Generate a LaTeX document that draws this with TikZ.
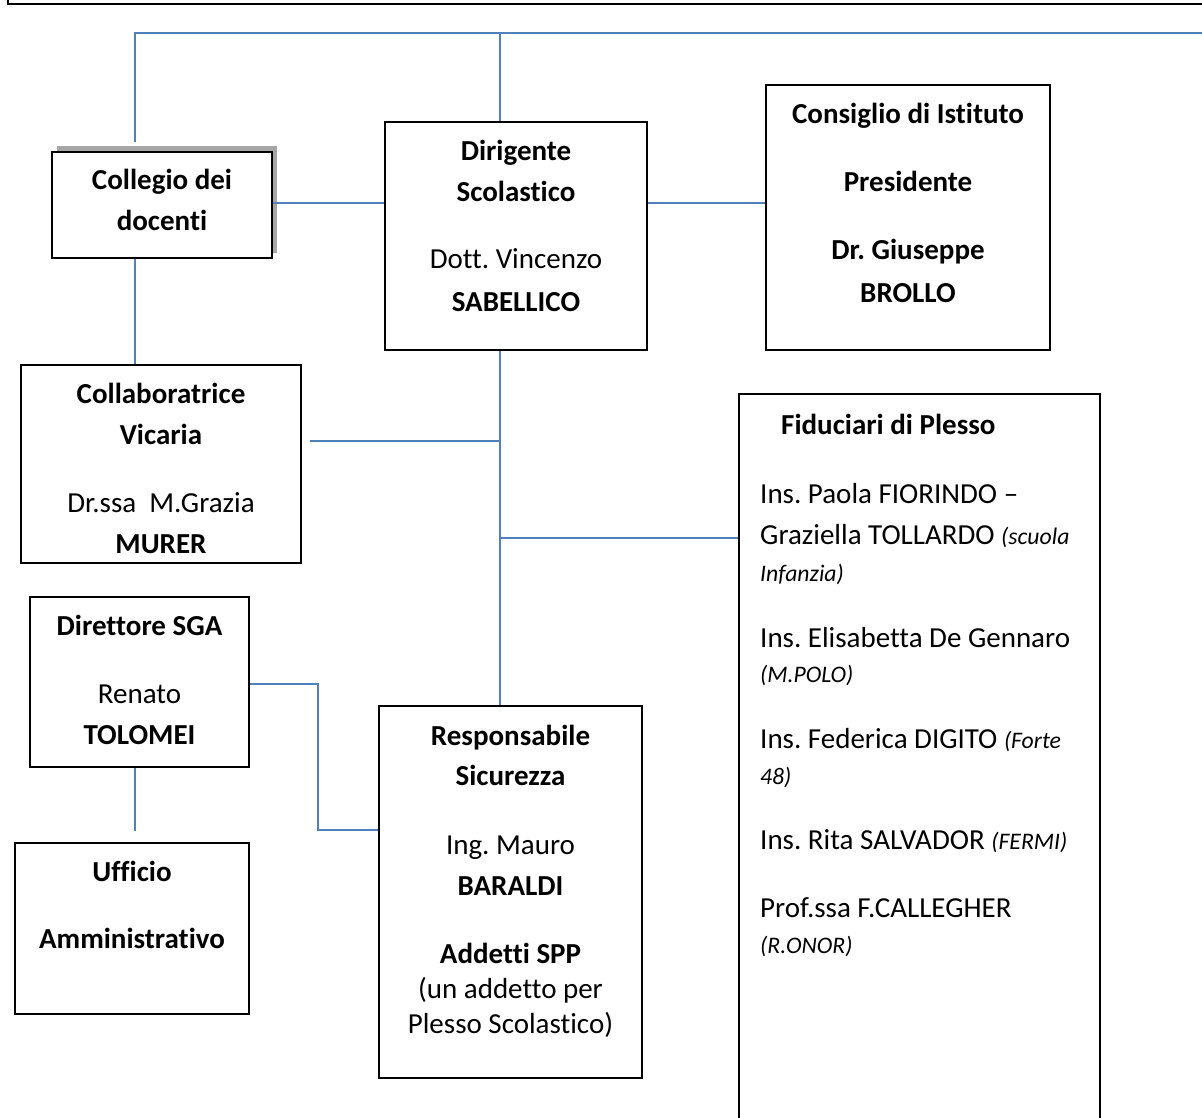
\documentclass[tikz,border=0pt]{standalone}
\usepackage{fontspec}
\setmainfont{Carlito}[Ligatures={NoCommon}]
\frenchspacing
\definecolor{linkblue}{HTML}{4F81BD}
\begin{document}
\begin{tikzpicture}[x=1pt,y=-1pt,
  box/.style={draw=black, line width=1.8pt, fill=white, rectangle, inner sep=0pt},
  conn/.style={draw=linkblue, line width=2pt},
  txb/.style={anchor=base, inner sep=0pt, font=\fontsize{29}{35}\selectfont\bfseries},
  txr/.style={anchor=base, inner sep=0pt, font=\fontsize{29}{35}\selectfont},
  txl/.style={anchor=base west, inner sep=0pt, font=\fontsize{29}{35}\selectfont}]
\newcommand{\smit}[1]{{\fontsize{23.7}{28}\selectfont\itshape #1}}
\useasboundingbox (0,0) rectangle (1202,1118);
% outer frame
\draw[line width=2pt] (8,-10) -- (8,4) -- (1215,4);
% shadow of Collegio box
\fill[gray!70] (57,146) rectangle (277,152);
\fill[gray!70] (272,146) rectangle (277,253);
% boxes
\node[box, minimum width=220pt, minimum height=106pt] (coll) at (162,205) {};
\node[box, minimum width=262pt, minimum height=228pt] (dir) at (516,236) {};
\node[box, minimum width=284pt, minimum height=265pt] (cons) at (908,217.5) {};
\node[box, minimum width=280pt, minimum height=198pt] (collab) at (161,464) {};
\node[box, minimum width=219pt, minimum height=170pt] (dsga) at (139.5,682) {};
\node[box, minimum width=234pt, minimum height=171pt] (uff) at (132,928.5) {};
\node[box, minimum width=263pt, minimum height=372pt] (resp) at (510.5,892) {};
\node[box, minimum width=361pt, minimum height=760pt] (fid) at (919.5,774) {};
% helper coordinates
\coordinate (ttl) at (135,33);
\coordinate (ttr) at (1215,33);
\coordinate (tmid) at (500,33);
\coordinate (collTop) at (135,142);
\coordinate (h1) at (0,203);
\coordinate (trk) at (500,0);
\coordinate (cb) at (310,441);
\coordinate (fb) at (500,538);
\coordinate (dr1) at (318,684);
\coordinate (dr2) at (318,830);
\coordinate (du) at (135,831);
% connectors
\draw[conn] (collTop) -- (ttl) -- (ttr);
\draw[conn] (tmid) -- (tmid |- dir.north);
\draw[conn] (coll.east |- h1) -- (dir.west |- h1);
\draw[conn] (dir.east |- h1) -- (cons.west |- h1);
\draw[conn] (coll.south -| ttl) -- (collab.north -| ttl);
\draw[conn] (dir.south -| trk) -- (resp.north -| trk);
\draw[conn] (cb) -- (cb -| trk);
\draw[conn] (fb) -- (fb -| fid.west);
\draw[conn] (dsga.east |- dr1) -- (dr1) -- (dr2) -- (dr2 -| resp.west);
\draw[conn] (dsga.south -| du) -- (du);
% Collegio
\node[txb] (c1) at (162,190) {Collegio dei};
\node[txb] (c2) at (162,230) {docenti};
% Dirigente
\node[txb] (d1) at (516,161) {Dirigente};
\node[txb] (d2) at (516,202) {Scolastico};
\node[txr] (d3) at (516,269) {Dott. Vincenzo};
\node[txb] (d4) at (516,311) {SABELLICO};
% Consiglio
\node[txb] (k1) at (908,124) {Consiglio di Istituto};
\node[txb] (k2) at (908,192) {Presidente};
\node[txb] (k3) at (908,259) {Dr. Giuseppe};
\node[txb] (k4) at (908,302) {BROLLO};
% Collaboratrice
\node[txb] (v1) at (161,403) {Collaboratrice};
\node[txb] (v2) at (161,444) {Vicaria};
\node[txr] (v3) at (161,512) {Dr.ssa~~M.Grazia};
\node[txb] (v4) at (161,553) {MURER};
% Direttore SGA
\node[txb] (s1) at (139.5,635) {Direttore SGA};
\node[txr] (s2) at (139.5,703) {Renato};
\node[txb] (s3) at (139.5,744) {TOLOMEI};
% Ufficio
\node[txb] (u1) at (132,881) {Ufficio};
\node[txb] (u2) at (132,948) {Amministrativo};
% Responsabile
\node[txb] (r1) at (510.5,745) {Responsabile};
\node[txb] (r2) at (510.5,785) {Sicurezza};
\node[txr] (r3) at (510.5,854) {Ing. Mauro};
\node[txb] (r4) at (510.5,895) {BARALDI};
\node[txb] (r5) at (510.5,963) {Addetti SPP};
\node[txr] (r6) at (510.5,998) {(un addetto per};
\node[txr] (r7) at (510.5,1033) {Plesso Scolastico)};
% Fiduciari
\node[txl, font=\fontsize{29}{35}\selectfont\bfseries] (f0) at (781,434) {Fiduciari di Plesso};
\node[txl] (f1) at (760,503) {Ins. Paola FIORINDO --};
\node[txl] (f2) at (760,544) {Graziella TOLLARDO \smit{(scuola}};
\node[txl] (f3) at (760,581) {\smit{Infanzia)}};
\node[txl] (f4) at (760,647) {Ins. Elisabetta De Gennaro};
\node[txl] (f5) at (760,682) {\smit{(M.POLO)}};
\node[txl] (f6) at (760,748) {Ins. Federica DIGITO \smit{(Forte}};
\node[txl] (f7) at (760,784) {\smit{48)}};
\node[txl] (f8) at (760,849) {Ins. Rita SALVADOR \smit{(FERMI)}};
\node[txl] (f9) at (760,917) {Prof.ssa F.CALLEGHER};
\node[txl] (f10) at (760,953) {\smit{(R.ONOR)}};
\end{tikzpicture}
\end{document}
